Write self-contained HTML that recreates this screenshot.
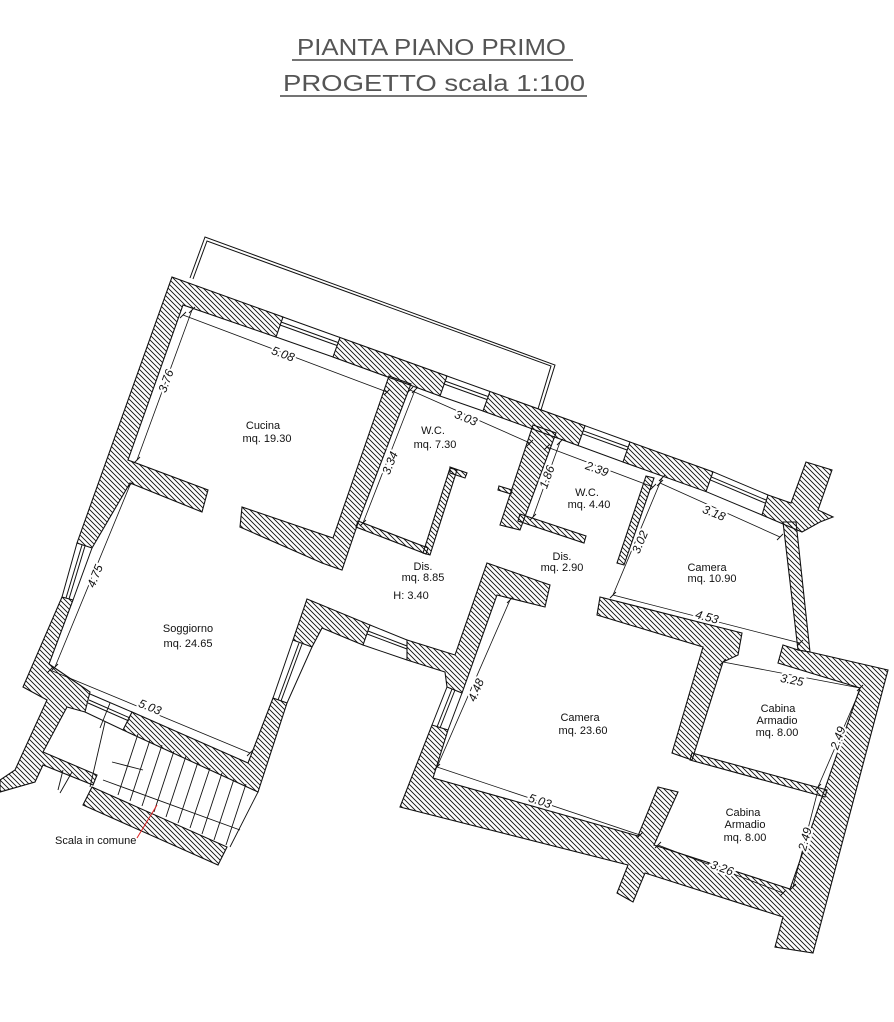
<!DOCTYPE html>
<html><head><meta charset="utf-8"><style>
html,body{margin:0;padding:0;background:#fff;}
svg{display:block;}
text{font-family:"Liberation Sans Narrow","Liberation Sans",sans-serif;fill:#111;}
.t{font-size:11px;}
.d{font-size:12px;font-style:italic;paint-order:stroke;stroke:#fff;stroke-width:4px;}
</style></head><body>
<svg width="894" height="1022" viewBox="0 0 894 1022" xmlns="http://www.w3.org/2000/svg">
<defs>
<pattern id="h" patternUnits="userSpaceOnUse" width="5" height="5">
<path d="M-1,-1 L6,6 M-1,4 L1,6 M4,-1 L6,1" stroke="#111" stroke-width="0.9"/>
</pattern>
</defs>
<rect width="894" height="1022" fill="#fff"/>
<text x="297" y="55" font-size="23" textLength="269" lengthAdjust="spacingAndGlyphs" style="font-family:'Liberation Sans',sans-serif;fill:#555">PIANTA PIANO PRIMO</text>
<line x1="292" y1="60" x2="573" y2="60" stroke="#222" stroke-width="1.3"/>
<text x="283" y="91" font-size="23" textLength="302" lengthAdjust="spacingAndGlyphs" style="font-family:'Liberation Sans',sans-serif;fill:#555">PROGETTO scala 1:100</text>
<line x1="280" y1="96" x2="587" y2="96" stroke="#222" stroke-width="1.3"/>

<g fill="none" stroke="#111" stroke-width="1">
<polyline points="190,278 205,237 555,365 541,410"/>
<polyline points="193,279 207,241 551,366 538,409"/>
</g>

<g fill="url(#h)" stroke="#111" stroke-width="1.1" stroke-linejoin="miter">
<polygon points="172,277 283,317 276,337 183,305 128,460 208,490 202,512 130,483 92,548 77,543"/>
<polygon points="340,337.5 447,376 440,396 333,357"/>
<polygon points="490,391.5 585,425.7 578,445.5 483,411"/>
<polygon points="630,442 713,471.8 706,491.6 623,462"/>
<polygon points="768,495 791,503 806,462 832,470 818,510 833,517 820,522 802,532 762,515"/>
<polygon points="783,522 796,522 810,652 798,650"/>
<polygon points="389,376 411,384 358,523 342,570 322,563 240,527 242,507 333,538"/>
<polygon points="358,521 428,548 426,554 356,527"/>
<polygon points="450,468 457,470 430,555 423,553"/>
<polygon points="450,467 467,473 465,478 450,473"/>
<polygon points="533,425 556,433 520,530 500,525"/>
<polygon points="499,486 512,490 511,494 498,490"/>
<polygon points="520,514 586,536 584,543 518,521"/>
<polygon points="646,476 654,478 624,565 617,563"/>
<polygon points="600,597 742,633 738,655 723,662 692,760 672,753 703,647 597,615"/>
<polygon points="692,753 827,790 825,797 690,760"/>
<polygon points="783,645 798,650 810,652 888,670 813,953 775,947 783,917 645,873 633,902 617,893 628,865 400,807 432,725 448,730 433,778 638,836 658,787 678,792 654,845 790,889 860,688 778,663"/>
<polygon points="487,563 550,585 545,607 497,595 462,693 447,687 445,672 407,660 407,640 455,655"/>
<polygon points="307,599 370,625 363,645 322,628 312,647 293,640"/>
<polygon points="273,698 287,703 258,792 123,730 132,712 248,763"/>
<polygon points="62,597 73,600 49,664 90,692 85,712 67,707 43,752 97,775 93,785 43,765 35,782 0,792 0,780 15,770 47,700 23,687"/>
<polygon points="92,787 227,847 218,865 83,805"/>
</g>

<g stroke="#111" stroke-width="1" fill="none">
<line x1="283" y1="317" x2="340" y2="337.5"/><line x1="276" y1="337" x2="333" y2="357"/>
<line x1="281" y1="322" x2="338" y2="342.5"/><line x1="280" y1="325" x2="337" y2="345.5"/>
<line x1="447" y1="376" x2="490" y2="391.5"/><line x1="440" y1="396" x2="483" y2="411"/>
<line x1="445" y1="381" x2="488" y2="396.5"/><line x1="444" y1="384" x2="487" y2="399.5"/>
<line x1="585" y1="425.7" x2="630" y2="442"/><line x1="578" y1="445.5" x2="623" y2="462"/>
<line x1="583" y1="430.7" x2="628" y2="447"/><line x1="582" y1="433.7" x2="627" y2="450"/>
<line x1="713" y1="471.8" x2="768" y2="495"/><line x1="706" y1="491.6" x2="762" y2="515"/>
<line x1="711" y1="476.8" x2="766" y2="500"/><line x1="710" y1="479.8" x2="765" y2="503"/>
<line x1="77" y1="543" x2="62" y2="597"/><line x1="92" y1="548" x2="73" y2="600"/>
<line x1="82" y1="545" x2="66" y2="598"/><line x1="85" y1="546" x2="69" y2="599"/>
<line x1="90" y1="694" x2="132" y2="712"/><line x1="85" y1="712" x2="123" y2="730"/>
<line x1="89" y1="700" x2="130" y2="718"/><line x1="88" y1="703" x2="129" y2="721"/>
<line x1="293" y1="640" x2="273" y2="698"/><line x1="312" y1="647" x2="287" y2="703"/>
<line x1="299" y1="643" x2="278" y2="700"/><line x1="302" y1="644" x2="281" y2="701"/>
<line x1="370" y1="625" x2="407" y2="640"/><line x1="363" y1="645" x2="407" y2="660"/>
<line x1="368" y1="631" x2="407" y2="646"/><line x1="367" y1="634" x2="407" y2="649"/>
<line x1="447" y1="687" x2="432" y2="725"/><line x1="462" y1="693" x2="448" y2="730"/>
<line x1="452" y1="689" x2="437" y2="727"/><line x1="455" y1="690" x2="440" y2="728"/>
</g>

<g stroke="#111" stroke-width="0.9" fill="none">
<line x1="138" y1="734" x2="118" y2="795"/>
<line x1="150" y1="740" x2="130" y2="801"/>
<line x1="162" y1="745" x2="142" y2="806"/>
<line x1="174" y1="751" x2="154" y2="812"/>
<line x1="186" y1="756" x2="166" y2="817"/>
<line x1="198" y1="762" x2="178" y2="823"/>
<line x1="210" y1="768" x2="190" y2="828"/>
<line x1="222" y1="773" x2="202" y2="834"/>
<line x1="234" y1="779" x2="214" y2="840"/>
<line x1="246" y1="784" x2="226" y2="845"/>
<line x1="258" y1="792" x2="230" y2="847"/>
<line x1="103" y1="780" x2="240" y2="830"/>
<line x1="110" y1="703" x2="100" y2="728"/>
<line x1="72" y1="772" x2="60" y2="793"/>
<line x1="105" y1="722" x2="90" y2="787"/>
<line x1="112" y1="762" x2="143" y2="770"/>
<line x1="63" y1="770" x2="58" y2="790"/>
</g>
<line x1="157" y1="805" x2="137" y2="838" stroke="#e02020" stroke-width="1"/>
<text class="t" x="55" y="844">Scala in comune</text>

<g stroke="#111" stroke-width="0.8" fill="none">
<line x1="183" y1="315" x2="387" y2="392"/>
<line x1="192" y1="310" x2="137" y2="460"/>
<line x1="130" y1="485" x2="55" y2="667"/>
<line x1="50" y1="670" x2="250" y2="753"/>
<line x1="410" y1="390" x2="530" y2="443"/>
<line x1="415" y1="390" x2="363" y2="523"/>
<line x1="560" y1="442" x2="533" y2="517"/>
<line x1="547" y1="447" x2="653" y2="487"/>
<line x1="660" y1="483" x2="780" y2="537"/>
<line x1="662" y1="478" x2="613" y2="595"/>
<line x1="613" y1="595" x2="800" y2="643"/>
<line x1="510" y1="600" x2="437" y2="767"/>
<line x1="437" y1="767" x2="640" y2="835"/>
<line x1="723" y1="662" x2="860" y2="688"/>
<line x1="860" y1="690" x2="818" y2="787"/>
<line x1="818" y1="790" x2="793" y2="887"/>
<line x1="658" y1="845" x2="783" y2="893"/>
</g>
<g stroke="#111" stroke-width="0.9">
<path d="M180,318l6,-6M384,395l6,-6M189,313l6,-6M134,463l6,-6M127,488l6,-6M52,670l6,-6M47,673l6,-6M247,756l6,-6M407,393l6,-6M527,446l6,-6M412,393l6,-6M360,526l6,-6M557,445l6,-6M530,520l6,-6M544,450l6,-6M650,490l6,-6M657,486l6,-6M777,540l6,-6M659,481l6,-6M610,598l6,-6M797,646l6,-6M507,603l6,-6M434,770l6,-6M637,838l6,-6M720,665l6,-6M857,691l6,-6M815,790l6,-6M790,890l6,-6M655,848l6,-6M780,896l6,-6"/>
</g>
<g class="d">
<text class="d" x="283" y="358" transform="rotate(20 283 354)" text-anchor="middle">5.08</text>
<text class="d" x="166" y="385" transform="rotate(-70 166 381)" text-anchor="middle">3.76</text>
<text class="d" x="95" y="580" transform="rotate(-68 95 576)" text-anchor="middle">4.75</text>
<text class="d" x="150" y="711" transform="rotate(22 150 707)" text-anchor="middle">5.03</text>
<text class="d" x="466" y="422" transform="rotate(22 466 418)" text-anchor="middle">3.03</text>
<text class="d" x="390" y="467" transform="rotate(-68 390 463)" text-anchor="middle">3.34</text>
<text class="d" x="547" y="481" transform="rotate(-70 547 477)" text-anchor="middle">1.86</text>
<text class="d" x="597" y="473" transform="rotate(20 597 469)" text-anchor="middle">2.39</text>
<text class="d" x="714" y="517" transform="rotate(22 714 513)" text-anchor="middle">3.18</text>
<text class="d" x="640" y="546" transform="rotate(-67 640 542)" text-anchor="middle">3.02</text>
<text class="d" x="707" y="621" transform="rotate(15 707 617)" text-anchor="middle">4.53</text>
<text class="d" x="476" y="694" transform="rotate(-67 476 690)" text-anchor="middle">4.48</text>
<text class="d" x="540" y="805" transform="rotate(18 540 801)" text-anchor="middle">5.03</text>
<text class="d" x="792" y="684" transform="rotate(11 792 680)" text-anchor="middle">3.25</text>
<text class="d" x="838" y="742" transform="rotate(-70 838 738)" text-anchor="middle">2.49</text>
<text class="d" x="805" y="843" transform="rotate(-75 805 839)" text-anchor="middle">2.49</text>
<text class="d" x="722" y="872" transform="rotate(20 722 868)" text-anchor="middle">3.26</text>
</g>

<g class="t" text-anchor="middle">
<text x="263" y="429">Cucina</text>
<text x="267" y="442">mq.  19.30</text>
<text x="433" y="434">W.C.</text>
<text x="435" y="448">mq.  7.30</text>
<text x="587" y="496">W.C.</text>
<text x="589" y="508">mq.  4.40</text>
<text x="423" y="570">Dis.</text>
<text x="423" y="581">mq.  8.85</text>
<text x="411" y="599">H:  3.40</text>
<text x="562" y="560">Dis.</text>
<text x="562" y="571">mq.  2.90</text>
<text x="707" y="571">Camera</text>
<text x="712" y="582">mq.  10.90</text>
<text x="188" y="632">Soggiorno</text>
<text x="188" y="647">mq.  24.65</text>
<text x="580" y="721">Camera</text>
<text x="583" y="734">mq.  23.60</text>
<text x="778" y="712">Cabina</text>
<text x="777" y="724">Armadio</text>
<text x="777" y="736">mq.  8.00</text>
<text x="743" y="816">Cabina</text>
<text x="745" y="828">Armadio</text>
<text x="745" y="841">mq.  8.00</text>
</g>
</svg>
</body></html>
